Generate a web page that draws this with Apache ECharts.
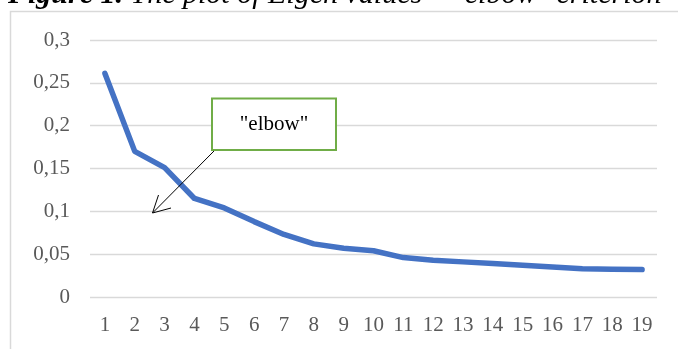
<!DOCTYPE html>
<html>
<head>
<meta charset="utf-8">
<script src="https://cdn.jsdelivr.net/npm/echarts@6/dist/echarts.min.js"></script>
<style>
html,body{margin:0;padding:0;background:#fff;}
#c{width:678px;height:349px;}
</style>
</head>
<body>
<div id="c"></div>
<script>
var categories = ['1','2','3','4','5','6','7','8','9','10','11','12','13','14','15','16','17','18','19'];
var eigenValues = [0.261, 0.170, 0.151, 0.115, 0.104, 0.088, 0.073, 0.062, 0.057, 0.054, 0.046, 0.043, 0.041, 0.039, 0.037, 0.035, 0.033, 0.0325, 0.032];
var yTicks = [0, 0.05, 0.1, 0.15, 0.2, 0.25, 0.3];
var titleBold = 'Figure 1.';
var titleItalic = ' The plot of Eigen values \u2013 "elbow" criterion';
var annotationText = '"elbow"';

var serif = '"Liberation Serif", "Times New Roman", serif';
var chart = echarts.init(document.getElementById('c'), null, {renderer: 'canvas'});
chart.setOption({
  animation: false,
  backgroundColor: '#ffffff',
  grid: {left: 90, right: 21, top: 40, bottom: 52, containLabel: false},
  xAxis: {
    type: 'category',
    data: categories,
    boundaryGap: true,
    axisLine: {show: false},
    axisTick: {show: false},
    axisLabel: {fontFamily: serif, fontSize: 21, color: '#595959', margin: 18, interval: 0}
  },
  yAxis: {
    type: 'value',
    min: yTicks[0],
    max: yTicks[yTicks.length - 1],
    interval: 0.05,
    axisLine: {show: false},
    axisTick: {show: false},
    splitLine: {lineStyle: {color: '#d9d9d9', width: 1.3}},
    axisLabel: {
      fontFamily: serif, fontSize: 21, color: '#595959', margin: 20,
      formatter: function (v) { return String(+v.toFixed(2)).replace('.', ','); }
    }
  },
  series: [{
    type: 'line',
    data: eigenValues,
    showSymbol: false,
    symbol: 'none',
    lineStyle: {color: '#4472C4', width: 5.5, cap: 'round', join: 'round'}
  }],
  graphic: [
    {type: 'rect', z: -1, silent: true, shape: {x: 10.5, y: 11.5, width: 800, height: 500},
     style: {fill: null, stroke: '#d9d9d9', lineWidth: 1.5}},
    {type: 'text', left: 8, top: -20, z: 10,
     style: {
       text: '{b|' + titleBold + '}{i|' + titleItalic + '}',
       rich: {
         b: {fontFamily: serif, fontSize: 30, fontWeight: 'bold', fontStyle: 'italic', fill: '#000', lineHeight: 30},
         i: {fontFamily: serif, fontSize: 30, fontStyle: 'italic', fill: '#000', lineHeight: 30}
       }
     }},
    {type: 'line', z: 20, shape: {x1: 214, y1: 151, x2: 152.5, y2: 213}, style: {stroke: '#000', lineWidth: 1}},
    {type: 'polyline', z: 20, shape: {points: [[158.5, 195], [152.5, 213], [171, 208]]}, style: {stroke: '#000', lineWidth: 1, fill: null}},
    {type: 'rect', z: 20, shape: {x: 212, y: 98.5, width: 124, height: 51.5},
     style: {fill: '#ffffff', stroke: '#70AD47', lineWidth: 2}},
    {type: 'text', z: 21, x: 274, y: 124.5,
     style: {text: annotationText, fontFamily: serif, fontSize: 21, fill: '#000', textAlign: 'center', textVerticalAlign: 'middle'}}
  ]
});
</script>
</body>
</html>
